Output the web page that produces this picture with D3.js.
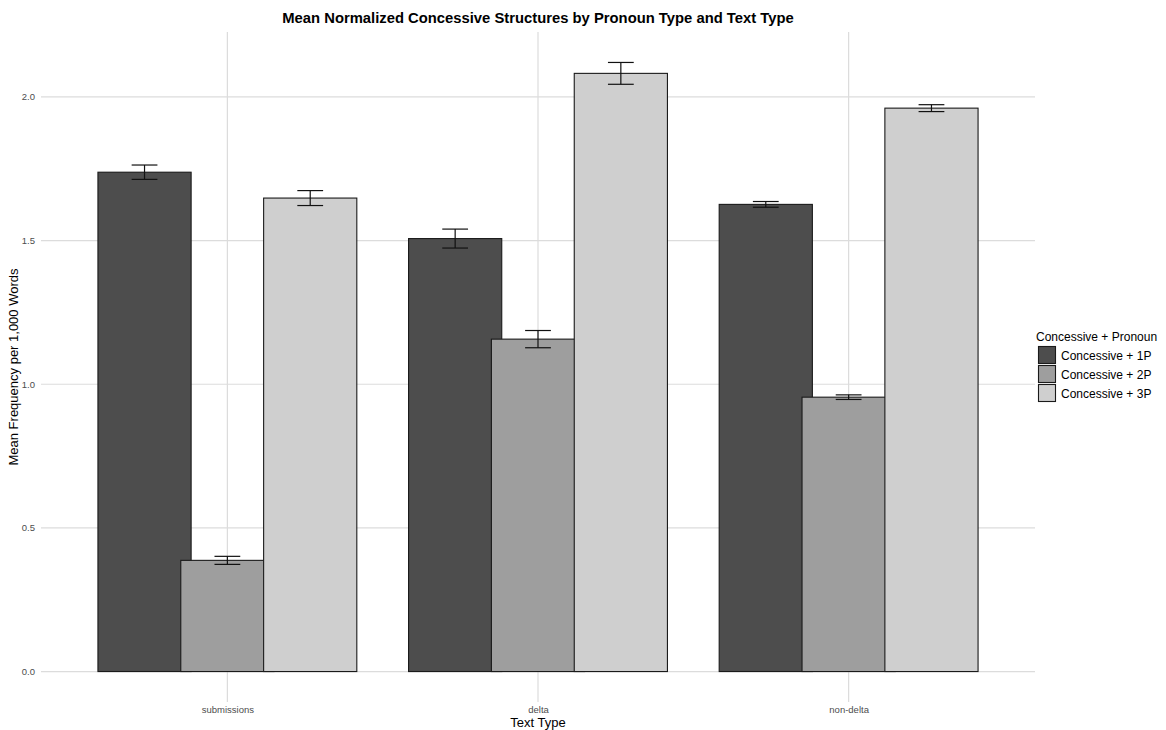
<!DOCTYPE html>
<html>
<head>
<meta charset="utf-8">
<script src="https://cdn.jsdelivr.net/npm/d3@7"></script>
<style>
  body { margin: 0; background: #fff; }
  text { font-family: "Liberation Sans", Arial, Helvetica, sans-serif; }
</style>
</head>
<body>
<div id="chart"></div>
<script>
// values
var categories = ["submissions", "delta", "non-delta"];
var series = ["Concessive + 1P", "Concessive + 2P", "Concessive + 3P"];
var means1P = [1.738, 1.507, 1.626];
var means2P = [0.387, 1.157, 0.955];
var means3P = [1.648, 2.082, 1.961];
var err1P = [0.025, 0.033, 0.010];
var err2P = [0.014, 0.030, 0.008];
var err3P = [0.026, 0.038, 0.012];
var yTicks = [0, 0.5, 1.0, 1.5, 2.0];
var fills = ["#4d4d4d", "#9e9e9e", "#cfcfcf"];

var means = [means1P, means2P, means3P];
var errs = [err1P, err2P, err3P];

var datos = [];
series.forEach(function(s, i){
  categories.forEach(function(c, j){
    datos.push({serie: s, cat: c, value: means[i][j], err: errs[i][j]});
  });
});

var W = 1166, H = 730;
var panel = {left: 41, right: 1035, top: 32, bottom: 702};

var svg = d3.select("#chart").append("svg")
  .attr("width", W).attr("height", H);

// y scale with ggplot-style 5% expansion
var maxTop = d3.max(datos, function(d){ return d.value + d.err; });
var pad = maxTop * 0.05;
var y = d3.scaleLinear().domain([0 - pad, maxTop + pad]).range([panel.bottom, panel.top]);

var x = d3.scalePoint().domain(categories).range([panel.left, panel.right]).padding(0.6);
var step = x.step();
var dodge = d3.scalePoint().domain(series).range([-0.2667 * step, 0.2667 * step]);
var barW = 0.3 * step;
var capW = 0.083 * step;

var color = d3.scaleOrdinal().domain(series).range(fills);

// grid
var grid = svg.append("g");
grid.selectAll(".hg").data(yTicks).enter().append("line")
  .attr("x1", panel.left).attr("x2", panel.right)
  .attr("y1", function(d){ return y(d); }).attr("y2", function(d){ return y(d); })
  .attr("stroke", "#dcdcdc").attr("stroke-width", 1.2);
grid.selectAll(".vg").data(categories).enter().append("line")
  .attr("x1", function(d){ return x(d); }).attr("x2", function(d){ return x(d); })
  .attr("y1", panel.top).attr("y2", panel.bottom)
  .attr("stroke", "#dcdcdc").attr("stroke-width", 1.2);

// bars (drawn series by series so later ones overlap earlier ones)
svg.append("g").selectAll("rect").data(datos).enter().append("rect")
  .attr("x", function(d){ return x(d.cat) + dodge(d.serie) - barW / 2; })
  .attr("width", barW)
  .attr("y", function(d){ return y(d.value); })
  .attr("height", function(d){ return y(0) - y(d.value); })
  .attr("fill", function(d){ return color(d.serie); })
  .attr("stroke", "#1a1a1a").attr("stroke-width", 1.1);

// error bars
var eb = svg.append("g").attr("stroke", "#111").attr("stroke-width", 1.2);
datos.forEach(function(d){
  var cx = x(d.cat) + dodge(d.serie);
  var yl = y(d.value - d.err), yh = y(d.value + d.err);
  eb.append("line").attr("x1", cx).attr("x2", cx).attr("y1", yl).attr("y2", yh);
  eb.append("line").attr("x1", cx - capW / 2).attr("x2", cx + capW / 2).attr("y1", yl).attr("y2", yl);
  eb.append("line").attr("x1", cx - capW / 2).attr("x2", cx + capW / 2).attr("y1", yh).attr("y2", yh);
});

// y axis labels
var yAxis = d3.axisLeft(y).tickValues(yTicks).tickFormat(d3.format(".1f")).tickSize(0).tickPadding(6);
var gy = svg.append("g").attr("transform", "translate(" + panel.left + ",0)").call(yAxis);
gy.select(".domain").remove();
gy.selectAll("text").attr("fill", "#4d4d4d").style("font-size", "9.5px")
  .style("font-family", "Liberation Sans, Arial, sans-serif");

// x axis labels
var xAxis = d3.axisBottom(x).tickSize(0).tickPadding(4);
var gx = svg.append("g").attr("transform", "translate(0," + panel.bottom + ")").call(xAxis);
gx.select(".domain").remove();
gx.selectAll("text").attr("fill", "#4d4d4d").style("font-size", "9.5px")
  .style("font-family", "Liberation Sans, Arial, sans-serif");

// titles
svg.append("text").attr("x", (panel.left + panel.right) / 2).attr("y", 23)
  .attr("text-anchor", "middle").style("font-size", "14.8px").style("font-weight", "bold")
  .attr("fill", "#000").text("Mean Normalized Concessive Structures by Pronoun Type and Text Type");
svg.append("text").attr("x", (panel.left + panel.right) / 2).attr("y", 727)
  .attr("text-anchor", "middle").style("font-size", "13px").attr("fill", "#000").text("Text Type");
svg.append("text")
  .attr("transform", "translate(18," + ((panel.top + panel.bottom) / 2) + ") rotate(-90)")
  .attr("text-anchor", "middle").style("font-size", "13px").attr("fill", "#000")
  .text("Mean Frequency per 1,000 Words");

// legend
var lg = svg.append("g").attr("transform", "translate(1036,0)");
lg.append("text").attr("x", 0).attr("y", 341).style("font-size", "12px").attr("fill", "#000")
  .text("Concessive + Pronoun");
series.forEach(function(s, i){
  lg.append("rect").attr("x", 2.5).attr("y", 346.5 + i * 19).attr("width", 17).attr("height", 17)
    .attr("fill", color(s)).attr("stroke", "#1a1a1a").attr("stroke-width", 1.1);
  lg.append("text").attr("x", 25).attr("y", 359.5 + i * 19).style("font-size", "12px")
    .attr("fill", "#000").text(s);
});
</script>
</body>
</html>
